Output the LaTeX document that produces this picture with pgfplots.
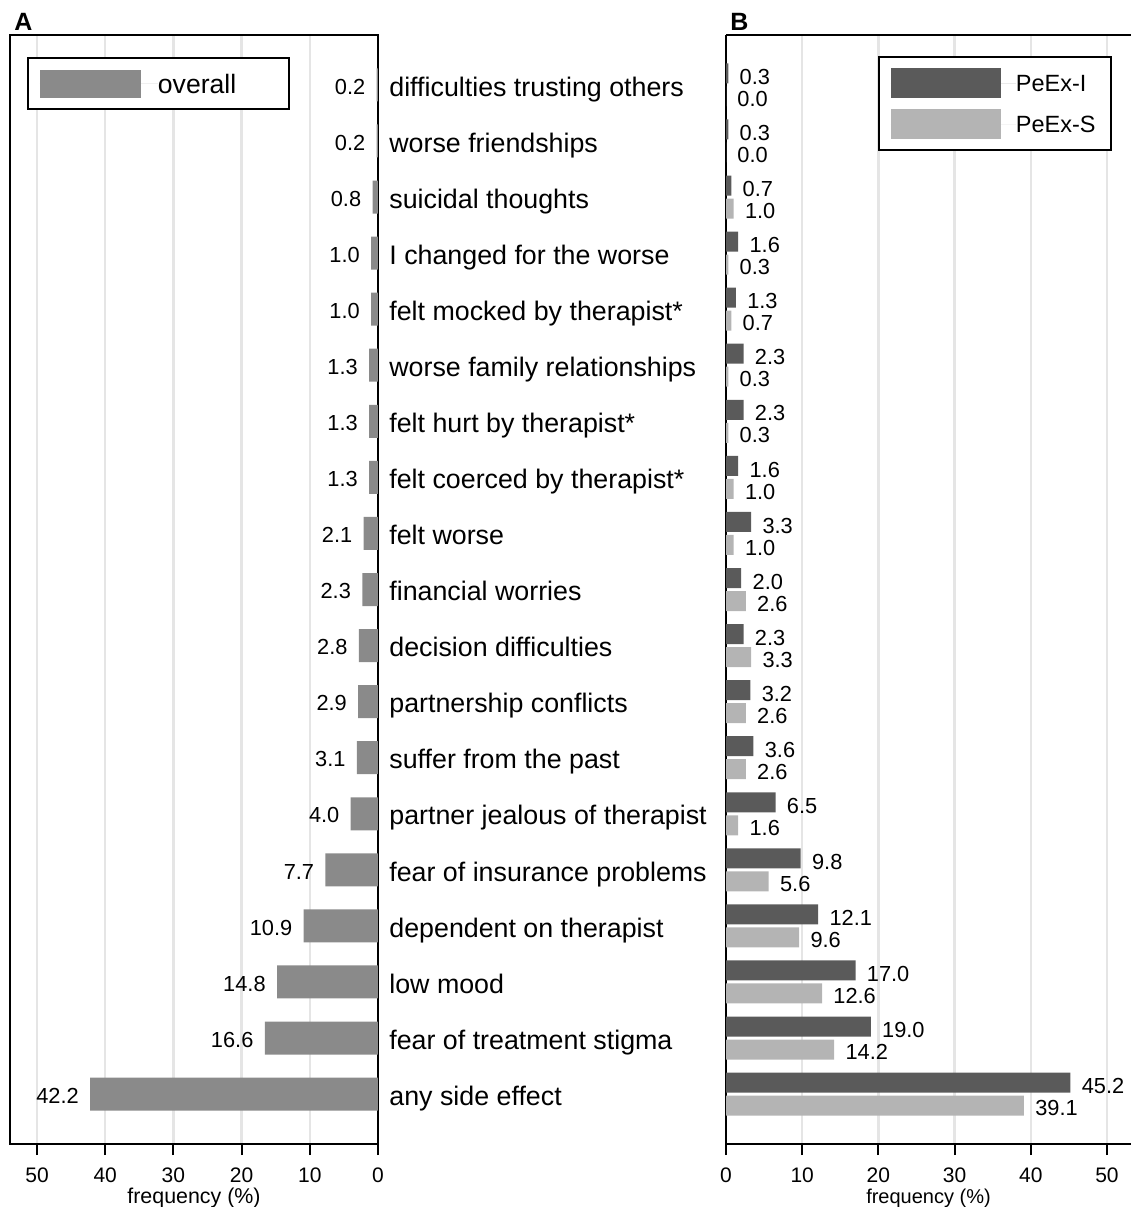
\documentclass[border=0pt]{standalone}
\usepackage{pgfplots}
\pgfplotsset{compat=1.18}
\usepackage{fontspec}
\setmainfont{Liberation Sans}
\definecolor{cA}{RGB}{138,138,138}
\definecolor{cI}{RGB}{90,90,90}
\definecolor{cS}{RGB}{180,180,180}
\tikzset{vlab/.style={font=\fontsize{10.9}{12}\selectfont, inner sep=0pt, text height=0.716em, text depth=0pt}}
\pgfplotsset{
  layers/mylayers/.define layer set={axis background,axis grid,axis ticks,pre main,main,axis lines,axis tick labels,axis descriptions,axis foreground}{},
  common/.style={
    set layers=mylayers,
    scale only axis, height=554.5pt,
    ymin=-0.89, ymax=18.89,
    tick align=outside, major tick length=5.5pt,
    xtick pos=left,
    ytick style={draw=none},
    xtick style={line width=1pt, black},
    xmajorgrids, grid style={black!10, line width=1.2pt},
    axis line style={line width=1pt},
    /pgf/number format/assume math mode=true,
    xticklabel style={font=\fontsize{10.5}{12}\selectfont, inner sep=0pt, yshift=-6pt},
    xlabel={frequency (\%)},
    xlabel style={font=\fontsize{10.7}{12}\selectfont, inner sep=0pt, yshift=-2.5pt},
    clip=false,
    legend cell align=left,
    title style={at={(0,1)}, anchor=south west, inner sep=0pt, xshift=2pt, yshift=-4pt, font=\fontsize{12.5}{14}\selectfont\bfseries},
  },
}
\begin{document}
\begin{tikzpicture}
% Panel A
\begin{axis}[common, at={(5pt,-572pt)}, anchor=south west, width=184pt,
  xmin=-53.96, xmax=0,
  xtick={-50,-40,-30,-20,-10,0}, xticklabels={50,40,30,20,10,0},
  ytick={0,...,18},
  yticklabel pos=right,
  yticklabels={any side effect, fear of treatment stigma, low mood, dependent on therapist, fear of insurance problems, partner jealous of therapist, suffer from the past, partnership conflicts, decision difficulties, financial worries, felt worse, felt coerced by therapist*, felt hurt by therapist*, worse family relationships, felt mocked by therapist*, I changed for the worse, suicidal thoughts, worse friendships, difficulties trusting others},
  yticklabel style={font=\fontsize{13.4}{16}\selectfont, anchor=west, inner sep=0pt, text height=0.716em, text depth=0pt, yshift=-2pt},
  title={A},
  legend style={at={(0.046,0.980)}, anchor=north west, draw=black, line width=1pt, inner xsep=6pt, inner ysep=5.75pt, font=\fontsize{13.3}{15}\selectfont, nodes={inner sep=0pt, text depth=0pt}},
]
\addplot[xbar, bar width=16.5pt, bar shift=0pt, fill=cA, draw=none, point meta=explicit,
  nodes near coords={\pgfmathprintnumber[fixed,fixed zerofill,precision=1]{\pgfplotspointmeta}},
  nodes near coords style={vlab, anchor=east, xshift=-5.5pt, yshift=-1pt},
  legend image code/.code={\fill[cA] (0pt,-7pt) rectangle (50.5pt,7pt); \path (0pt,0pt) -- (59pt,0pt);}]
coordinates {
(-42.2,0) [42.2]
(-16.6,1) [16.6]
(-14.8,2) [14.8]
(-10.9,3) [10.9]
(-7.7,4) [7.7]
(-4.0,5) [4.0]
(-3.1,6) [3.1]
(-2.9,7) [2.9]
(-2.8,8) [2.8]
(-2.3,9) [2.3]
(-2.1,10) [2.1]
(-1.3,11) [1.3]
(-1.3,12) [1.3]
(-1.3,13) [1.3]
(-1.0,14) [1.0]
(-1.0,15) [1.0]
(-0.8,16) [0.8]
(-0.2,17) [0.2]
(-0.2,18) [0.2]
};
\addlegendentry{\makebox[59.5pt][l]{overall}}
\end{axis}
% Panel B
\begin{axis}[common, at={(363pt,-572pt)}, anchor=south west, width=202.5pt,
  xmin=0, xmax=53.15,
  xtick={0,10,20,30,40,50},
  ytick=\empty,
  axis x line=box, axis y line=left,
  every outer y axis line/.append style={-},
  every outer x axis line/.append style={-},
  y axis line style={-},
  title={B},
  legend style={at={(0.375,0.981)}, anchor=north west, draw=black, line width=1pt, inner xsep=6pt, inner ysep=5.5pt, row sep=5.5pt, font=\fontsize{11.75}{13}\selectfont, nodes={inner sep=0pt, text depth=0pt}},
]
\addplot[xbar, bar width=10pt, bar shift=5.75pt, fill=cI, draw=none,
  nodes near coords={\pgfmathprintnumber[fixed,fixed zerofill,precision=1]{\pgfplotspointmeta}},
  nodes near coords style={vlab, anchor=west, xshift=5.5pt, yshift=3.75pt},
  legend image code/.code={\fill[cI] (0pt,-7.5pt) rectangle (55pt,7.5pt); \path (0pt,0pt) -- (62.5pt,0pt);}]
coordinates {
(45.2,0) (19.0,1) (17.0,2) (12.1,3) (9.8,4) (6.5,5) (3.6,6) (3.2,7) (2.3,8) (2.0,9)
(3.3,10) (1.6,11) (2.3,12) (2.3,13) (1.3,14) (1.6,15) (0.7,16) (0.3,17) (0.3,18)
};
\addlegendentry{\makebox[41.5pt][l]{PeEx-I}}
\addplot[xbar, bar width=10pt, bar shift=-5.75pt, fill=cS, draw=none,
  nodes near coords={\pgfmathprintnumber[fixed,fixed zerofill,precision=1]{\pgfplotspointmeta}},
  nodes near coords style={vlab, anchor=west, xshift=5.5pt, yshift=-7.25pt},
  legend image code/.code={\fill[cS] (0pt,-7.5pt) rectangle (55pt,7.5pt); \path (0pt,0pt) -- (62.5pt,0pt);}]
coordinates {
(39.1,0) (14.2,1) (12.6,2) (9.6,3) (5.6,4) (1.6,5) (2.6,6) (2.6,7) (3.3,8) (2.6,9)
(1.0,10) (1.0,11) (0.3,12) (0.3,13) (0.7,14) (0.3,15) (1.0,16) (0.0,17) (0.0,18)
};
\addlegendentry{\makebox[41.5pt][l]{PeEx-S}}
\end{axis}
\pgfresetboundingbox
\path[use as bounding box] (0,0) rectangle (565.5pt,-603.5pt);
\end{tikzpicture}
\end{document}
